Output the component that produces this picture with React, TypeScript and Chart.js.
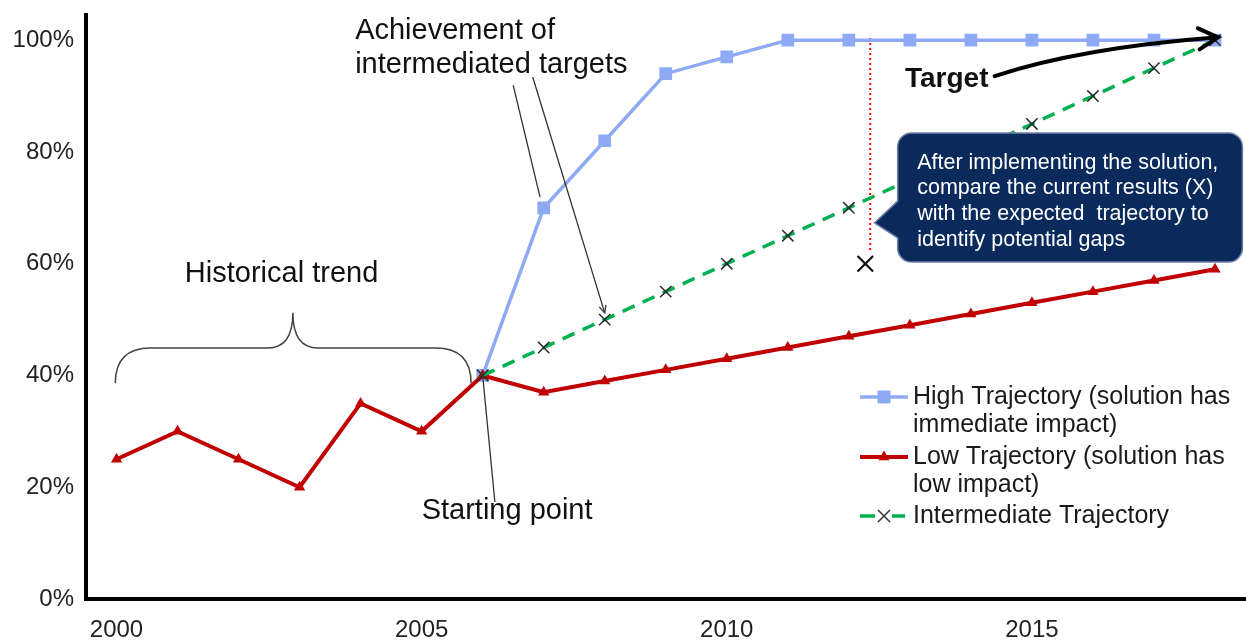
import { useEffect, useRef } from 'react';
import { Chart, registerables } from 'chart.js';

Chart.register(...registerables);

// ---------- data ----------
const years = [2000, 2001, 2002, 2003, 2004, 2005, 2006, 2007, 2008, 2009, 2010, 2011, 2012, 2013, 2014, 2015, 2016, 2017, 2018];
const lowValues = [25, 30, 25, 20, 35, 30, 40, 37, 39, 41, 43, 45, 47, 49, 51, 53, 55, 57, 59];
const projectionYears = [2006, 2007, 2008, 2009, 2010, 2011, 2012, 2013, 2014, 2015, 2016, 2017, 2018];
const highValues = [40, 70, 82, 94, 97, 100, 100, 100, 100, 100, 100, 100, 100];
const intermediateValues = [40, 45, 50, 55, 60, 65, 70, 75, 80, 85, 90, 95, 100];
const currentResultYear = [2012.27];
const currentResultValue = [60];
const checkLineYear = [2012.35, 2012.35];
const checkLineValues = [100.4, 62];
const xTickYears = [2000, 2005, 2010, 2015];
const yTickValues = [0, 20, 40, 60, 80, 100];

const legendLabels = [
  ['High Trajectory (solution has', 'immediate impact)'],
  ['Low Trajectory (solution has', 'low impact)'],
  ['Intermediate Trajectory'],
];
const calloutLines = [
  'After implementing the solution,',
  'compare the current results (X)',
  'with the expected  trajectory to',
  'identify potential gaps',
];

const FONT = "'Liberation Sans', Arial, sans-serif";
const BLUE = '#8EAAF4';
const RED = '#C00000';
const GREEN = '#00B050';

const annotationPlugin = {
  id: 'annotations',
  afterDatasetsDraw(chart: any) {
    const ctx: CanvasRenderingContext2D = chart.ctx;
    const xs = chart.scales.x;
    const ys = chart.scales.y;
    const X = (v: number) => xs.getPixelForValue(v);
    const Y = (v: number) => ys.getPixelForValue(v);
    ctx.save();

    // ---- curly brace over historical trend ----
    {
      const x1 = X(1999.98), xm = X(2002.89), x2 = X(2005.81);
      const yb = Y(38.6), yBar = Y(44.9), yp = Y(51.2);
      const r = yb - yBar;
      const c = 25;
      ctx.beginPath();
      ctx.moveTo(x1, yb);
      ctx.quadraticCurveTo(x1, yBar, x1 + r, yBar);
      ctx.lineTo(xm - c, yBar);
      ctx.quadraticCurveTo(xm, yBar, xm, yp);
      ctx.quadraticCurveTo(xm, yBar, xm + c, yBar);
      ctx.lineTo(x2 - r, yBar);
      ctx.quadraticCurveTo(x2, yBar, x2, yb);
      ctx.strokeStyle = '#444';
      ctx.lineWidth = 1.5;
      ctx.stroke();
    }

    // ---- texts ----
    ctx.fillStyle = '#111';
    ctx.textBaseline = 'alphabetic';
    ctx.textAlign = 'left';
    ctx.font = `29px ${FONT}`;
    ctx.fillText('Historical trend', X(2001.12), Y(56.7));
    ctx.fillText('Achievement of', X(2003.91), Y(100.2));
    ctx.fillText('intermediated targets', X(2003.91), Y(94.1));
    ctx.fillText('Starting point', X(2005.0), Y(14.3));
    ctx.font = `bold 28px ${FONT}`;
    ctx.fillText('Target', X(2012.92), Y(91.6));

    // ---- leader lines ----
    ctx.strokeStyle = '#333';
    ctx.lineWidth = 1.3;
    const seg = (ax: number, ay: number, bx: number, by: number) => {
      ctx.beginPath();
      ctx.moveTo(X(ax), Y(ay));
      ctx.lineTo(X(bx), Y(by));
      ctx.stroke();
    };
    seg(2006.5, 91.95, 2006.94, 71.9);
    seg(2006.82, 93.4, 2008.0, 51.2);
    seg(2006.0, 40, 2006.2, 17.35);
    {
      const ax = X(2006.82), ay = Y(93.4), bx = X(2008.0), by = Y(51.2);
      const ang = Math.atan2(by - ay, bx - ax);
      const L = 8;
      ctx.beginPath();
      ctx.moveTo(bx - L * Math.cos(ang - 0.45), by - L * Math.sin(ang - 0.45));
      ctx.lineTo(bx, by);
      ctx.lineTo(bx - L * Math.cos(ang + 0.45), by - L * Math.sin(ang + 0.45));
      ctx.stroke();
    }

    // ---- target arrow ----
    {
      const p0x = X(2014.39), p0y = Y(93.56);
      const cx = X(2015.79), cy = Y(98.6);
      const p2x = X(2018.05), p2y = Y(100.5);
      ctx.strokeStyle = '#000';
      ctx.lineWidth = 4;
      ctx.lineCap = 'round';
      ctx.beginPath();
      ctx.moveTo(p0x, p0y);
      ctx.quadraticCurveTo(cx, cy, p2x - 3, p2y + 0.2);
      ctx.stroke();
      const ang = Math.atan2(p2y - cy, p2x - cx);
      const L = 22;
      ctx.lineJoin = 'miter';
      ctx.beginPath();
      ctx.moveTo(p2x - L * Math.cos(ang - 0.5), p2y - L * Math.sin(ang - 0.5));
      ctx.lineTo(p2x, p2y);
      ctx.lineTo(p2x - L * Math.cos(ang + 0.5), p2y - L * Math.sin(ang + 0.5));
      ctx.stroke();
      ctx.lineCap = 'butt';
    }

    // ---- callout box ----
    {
      const L = X(2012.8), T = Y(83.4), R = X(2018.45), B = Y(60.3);
      const r = 14;
      const tipX = X(2012.42), tipY = Y(67.3);
      const pb1 = Y(71.2), pb2 = Y(64.6);
      ctx.beginPath();
      ctx.moveTo(L + r, T);
      ctx.lineTo(R - r, T);
      ctx.arcTo(R, T, R, T + r, r);
      ctx.lineTo(R, B - r);
      ctx.arcTo(R, B, R - r, B, r);
      ctx.lineTo(L + r, B);
      ctx.arcTo(L, B, L, B - r, r);
      ctx.lineTo(L, pb2);
      ctx.lineTo(tipX, tipY);
      ctx.lineTo(L, pb1);
      ctx.lineTo(L, T + r);
      ctx.arcTo(L, T, L + r, T, r);
      ctx.closePath();
      ctx.fillStyle = '#0B2A5C';
      ctx.fill();
      ctx.strokeStyle = '#6E80A6';
      ctx.lineWidth = 1.5;
      ctx.stroke();

      ctx.fillStyle = '#FFFFFF';
      ctx.font = `21.5px ${FONT}`;
      ctx.textBaseline = 'middle';
      const lineYs = [78.0, 73.5, 68.9, 64.2];
      calloutLines.forEach((t, i) => ctx.fillText(t, X(2013.12), Y(lineYs[i])));
    }

    // ---- legend ----
    {
      const sx0 = 860, sx1 = 908, sxm = 884, tx = 913;
      const rowY = [397, 457, 516];
      const lh = 28;
      ctx.textBaseline = 'middle';
      ctx.font = `25px ${FONT}`;
      let y = rowY[0];
      ctx.strokeStyle = BLUE; ctx.lineWidth = 3.5; ctx.setLineDash([]);
      ctx.beginPath(); ctx.moveTo(sx0, y); ctx.lineTo(sx1, y); ctx.stroke();
      ctx.fillStyle = BLUE; ctx.fillRect(sxm - 6.5, y - 6.5, 13, 13);
      y = rowY[1];
      ctx.strokeStyle = RED; ctx.lineWidth = 4;
      ctx.beginPath(); ctx.moveTo(sx0, y); ctx.lineTo(sx1, y); ctx.stroke();
      ctx.fillStyle = RED;
      ctx.beginPath(); ctx.moveTo(sxm, y - 6.5); ctx.lineTo(sxm + 5.6, y + 3.2); ctx.lineTo(sxm - 5.6, y + 3.2); ctx.closePath(); ctx.fill();
      y = rowY[2];
      ctx.strokeStyle = GREEN; ctx.lineWidth = 3.5;
      ctx.beginPath(); ctx.moveTo(sx0, y); ctx.lineTo(sx0 + 15, y); ctx.moveTo(sx1 - 16, y); ctx.lineTo(sx1 - 3, y); ctx.stroke();
      ctx.strokeStyle = '#333'; ctx.lineWidth = 1.5;
      ctx.beginPath();
      ctx.moveTo(sxm - 6, y - 6); ctx.lineTo(sxm + 6, y + 6);
      ctx.moveTo(sxm + 6, y - 6); ctx.lineTo(sxm - 6, y + 6);
      ctx.stroke();

      ctx.fillStyle = '#1a1a1a';
      legendLabels.forEach((lines, i) => {
        lines.forEach((t, j) => ctx.fillText(t, tx, rowY[i] + j * lh));
      });
    }

    ctx.restore();
  },
};

export default function App() {
  const ref = useRef<HTMLCanvasElement>(null);
  useEffect(() => {
    document.body.style.margin = '0';
    const tickFont = { family: FONT, size: 24 };
    const chart = new Chart(ref.current as HTMLCanvasElement, {
      type: 'line',
      data: {
        datasets: [
          {
            label: 'Intermediate Trajectory',
            data: projectionYears.map((x, i) => ({ x, y: intermediateValues[i] })),
            borderColor: GREEN,
            borderWidth: 3.5,
            borderDash: [13, 9],
            pointStyle: 'crossRot',
            pointRadius: 8,
            pointBorderColor: '#2a2a2a',
            pointBorderWidth: 1.5,
            order: 0,
          },
          {
            label: 'Current result',
            data: currentResultYear.map((x, i) => ({ x, y: currentResultValue[i] })),
            showLine: false,
            pointStyle: 'crossRot',
            pointRadius: 11,
            pointBorderColor: '#111',
            pointBorderWidth: 2.2,
            order: 1,
          },
          {
            label: 'Low Trajectory (solution has low impact)',
            data: years.map((x, i) => ({ x, y: lowValues[i] })),
            borderColor: RED,
            borderWidth: 4,
            pointStyle: 'triangle',
            pointRadius: 6.5,
            pointBackgroundColor: RED,
            pointBorderColor: RED,
            pointBorderWidth: 0,
            order: 2,
          },
          {
            label: 'High Trajectory (solution has immediate impact)',
            data: projectionYears.map((x, i) => ({ x, y: highValues[i] })),
            borderColor: BLUE,
            borderWidth: 3.5,
            pointStyle: 'rect',
            pointRadius: 9,
            pointBackgroundColor: BLUE,
            pointBorderColor: BLUE,
            pointBorderWidth: 0,
            order: 3,
          },
          {
            label: 'Check',
            data: checkLineYear.map((x, i) => ({ x, y: checkLineValues[i] })),
            borderColor: '#FF0000',
            borderWidth: 2,
            borderDash: [2, 3],
            pointRadius: 0,
            order: 4,
          },
        ],
      },
      options: {
        animation: false,
        responsive: false,
        layout: { autoPadding: false, padding: { top: 15, right: 0.5, left: 0, bottom: 0 } },
        plugins: { legend: { display: false }, tooltip: { enabled: false } },
        scales: {
          x: {
            type: 'linear',
            min: 1999.5,
            max: 2018.5,
            grid: { display: false, drawTicks: false },
            border: { display: true, color: '#000', width: 4 },
            afterBuildTicks: (s: any) => { s.ticks = xTickYears.map((v) => ({ value: v })); },
            afterFit: (s: any) => { s.height = 42; s.paddingLeft = 0; s.paddingRight = 0; },
            ticks: {
              padding: 17,
              font: tickFont,
              color: '#222',
              maxRotation: 0,
              autoSkip: false,
              callback: (v: any) => String(v),
            },
          },
          y: {
            min: 0,
            max: 104.5,
            grid: { display: false, drawTicks: false },
            border: { display: true, color: '#000', width: 4 },
            afterBuildTicks: (s: any) => { s.ticks = yTickValues.map((v) => ({ value: v })); },
            afterFit: (s: any) => { s.width = 86; s.paddingTop = 0; s.paddingBottom = 0; },
            ticks: {
              padding: 12,
              font: tickFont,
              color: '#222',
              callback: (v: any) => v + '%',
            },
          },
        },
      } as any,
      plugins: [annotationPlugin],
    });
    return () => chart.destroy();
  }, []);
  return <canvas ref={ref} width={1246} height={641} style={{ display: 'block', width: 1246, height: 641 }} />;
}
